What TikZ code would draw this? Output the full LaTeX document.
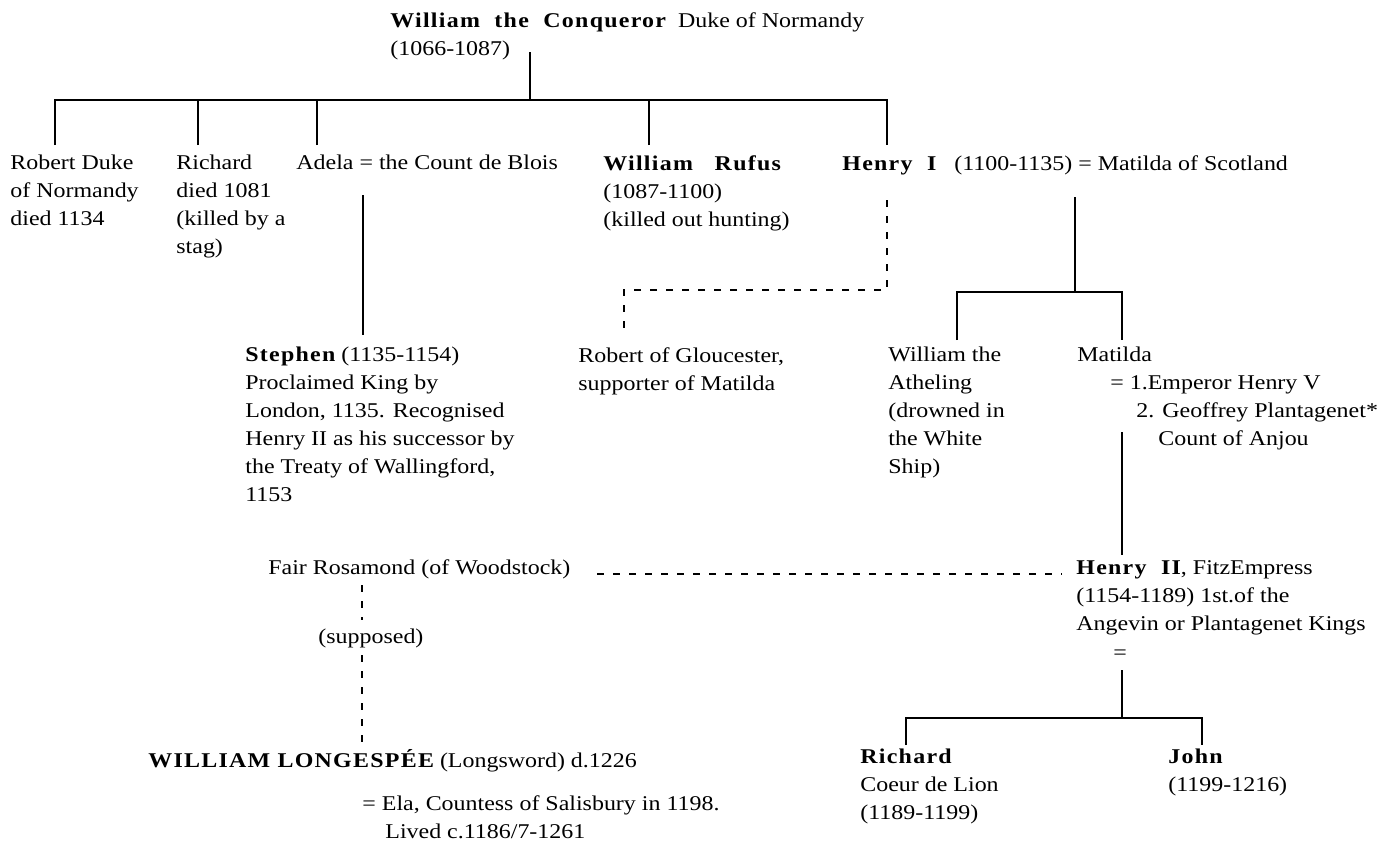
\documentclass[tikz,border=0pt]{standalone}
\usepackage{fontspec}
\setmainfont{Liberation Serif}[FakeStretch=1.14]
\newfontfamily\namefont{Liberation Serif}[LetterSpace=6, FakeStretch=1.14]
\newcommand{\nm}[1]{{\namefont\bfseries #1}}
\usetikzlibrary{positioning}

\begin{document}
\begin{tikzpicture}[
      x=0.5pt, y=-0.5pt,
      person/.style={anchor=north west, inner sep=0pt, align=left,
      font=\fontsize{10.5}{14}\selectfont},
      line/.style={line width=1pt},
      dotline/.style={line width=1.3pt, dash pattern=on 3.5pt off 4.5pt}
    ]
    \useasboundingbox (0,0) rectangle (1397,846);

    % William and his children
    \node[person] (wc) at (390, 12)
    {\nm{William\ \ the\ \ Conqueror}\hspace{6pt}Duke of Normandy\\(1066-1087)};
    \node[person] (robert) at (10, 155) {Robert Duke\\of Normandy\\died 1134};
    \node[person] (richard) at (176, 155) {Richard\\died 1081\\(killed by a\\stag)};
    \node[person] (adela) at (296, 155) {Adela = the Count de Blois};
    \node[person] (rufus) at (603, 155)
    {\nm{William\ \ \ Rufus}\\(1087-1100)\\(killed out hunting)};
    \node[person] (henry1) at (842, 155)
    {\nm{Henry\ \ I}\hspace{9pt}(1100-1135) = Matilda of Scotland};

    \coordinate (wcstem) at (530, 52);
    \coordinate (wcbar) at (530, 100);
    \coordinate (d1) at (55, 145);
    \coordinate (d2) at (198, 145);
    \coordinate (d3) at (317, 145);
    \coordinate (d4) at (649, 145);
    \coordinate (d5) at (887, 145);
    \draw[line] (wcstem) -- (wcbar);
    \draw[line] (d1) |- (wcbar) -| (d5);
    \draw[line] (d2) -- (d2 |- wcbar);
    \draw[line] (d3) -- (d3 |- wcbar);
    \draw[line] (d4) -- (d4 |- wcbar);

    % Second row
    \node[person] (stephen) at (245, 347)
    {\nm{Stephen} (1135-1154)\\Proclaimed King by\\London, 1135. Recognised\\
    Henry II as his successor by\\the Treaty of Wallingford,\\1153};
    \node[person] (gloucester) at (578, 347)
    {Robert of Gloucester,\\supporter of Matilda};
    \node[person] (atheling) at (888, 347)
    {William the\\Atheling\\(drowned in\\the White\\Ship)};
    \node[person] (matilda) at (1077, 347) {Matilda};
    \node[person] (spouses) at (1110, 375)
    {= 1.Emperor Henry V\\\hspace*{13pt}2. Geoffrey Plantagenet*\\
    \hspace*{24pt}Count of Anjou};

    \coordinate (adelatop) at (363, 195);
    \coordinate (stephentop) at (363, 335);
    \draw[line] (adelatop) -- (stephentop);

    \coordinate (h1dot) at (887, 200);
    \coordinate (glbend) at (624, 290);
    \coordinate (gltop) at (624, 335);
    \draw[dotline] (h1dot) |- (glbend) -- (gltop);

    \coordinate (h1stem) at (1075, 197);
    \coordinate (h1bar) at (1075, 292);
    \coordinate (e1) at (957, 340);
    \coordinate (e2) at (1122, 340);
    \draw[line] (h1stem) -- (h1bar);
    \draw[line] (e1) |- (h1bar) -| (e2);

    % Henry II and Rosamond
    \node[person] (henry2) at (1076, 560)
    {\nm{Henry\ \ II}, FitzEmpress\\(1154-1189) 1st.of the\\Angevin or Plantagenet Kings};
    \node[font=\fontsize{10.5}{14}\selectfont, inner sep=0pt] (h2eq) at (1120, 655) {=};
    \node[person] (rosamond) at (268, 559) {Fair Rosamond (of Woodstock)};
    \node[person] (supposed) at (318, 629) {(supposed)};

    \coordinate (matbot) at (1122, 432);
    \coordinate (h2top) at (1122, 555);
    \draw[line] (matbot) -- (h2top);

    \coordinate (rosright) at (597, 574);
    \coordinate (h2left) at (1062, 574);
    \draw[dotline] (rosright) -- (h2left);

    \coordinate (rosbot) at (362, 585);
    \coordinate (supabove) at (362, 620);
    \coordinate (supbelow) at (362, 655);
    \coordinate (lstop) at (362, 742);
    \draw[dotline] (rosbot) -- (supabove);
    \draw[dotline] (supbelow) -- (lstop);

    % Last row
    \node[person] (longespee) at (148, 749)
    {\nm{WILLIAM LONGESPÉE} (Longsword) d.1226};
    \node[person] (ela) at (362, 795)
    {= Ela, Countess of Salisbury in 1198.\\\hspace*{11.5pt}Lived c.1186/7-1261};
    \node[person] (richard2) at (860, 749) {\nm{Richard}\\Coeur de Lion\\(1189-1199)};
    \node[person] (john) at (1168, 749) {\nm{John}\\(1199-1216)};

    \coordinate (h2stem) at (1122, 670);
    \coordinate (h2bar) at (1122, 718);
    \coordinate (f1) at (906, 745);
    \coordinate (f2) at (1202, 745);
    \draw[line] (h2stem) -- (h2bar);
    \draw[line] (f1) |- (h2bar) -| (f2);

  \end{tikzpicture}
\end{document}
